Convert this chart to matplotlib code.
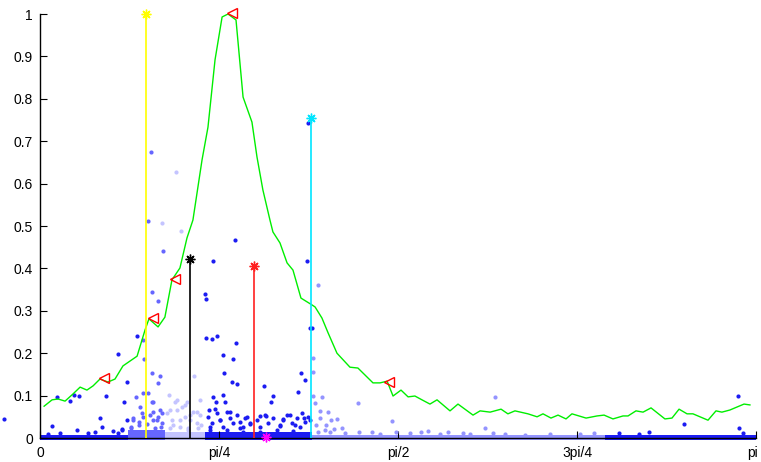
import numpy as np
import matplotlib
matplotlib.use("Agg")
import matplotlib.pyplot as plt
from matplotlib.transforms import ScaledTranslation

plt.rcParams['font.family'] = ['Liberation Sans', 'DejaVu Sans']

# green profile curve
curve_x = [0.018, 0.053, 0.079, 0.110, 0.145, 0.176, 0.206, 0.233, 0.263, 0.298,
           0.329, 0.364, 0.426, 0.461, 0.478, 0.518, 0.548, 0.579, 0.614, 0.645,
           0.671, 0.711, 0.737, 0.768, 0.799, 0.825, 0.860, 0.891, 0.930, 0.952,
           0.978, 1.009, 1.022, 1.053, 1.084, 1.110, 1.145, 1.193, 1.207, 1.237,
           1.264, 1.303, 1.360, 1.395, 1.461, 1.492, 1.523, 1.549, 1.584, 1.615,
           1.645, 1.676, 1.711, 1.742, 1.799, 1.834, 1.900, 1.931, 1.975, 2.023,
           2.053, 2.084, 2.141, 2.181, 2.207, 2.242, 2.273, 2.308, 2.334, 2.396,
           2.444, 2.475, 2.514, 2.558, 2.580, 2.615, 2.646, 2.681, 2.742, 2.773,
           2.804, 2.839, 2.865, 2.931, 2.966, 2.992, 3.027, 3.058, 3.089, 3.115]
curve_y = [0.075, 0.090, 0.092, 0.087, 0.104, 0.120, 0.113, 0.123, 0.139, 0.132,
           0.139, 0.170, 0.193, 0.255, 0.281, 0.262, 0.285, 0.373, 0.401, 0.472,
           0.514, 0.656, 0.733, 0.892, 0.993, 1.000, 0.986, 0.804, 0.745, 0.663,
           0.585, 0.514, 0.486, 0.460, 0.413, 0.396, 0.330, 0.314, 0.309, 0.283,
           0.248, 0.200, 0.167, 0.165, 0.130, 0.130, 0.134, 0.099, 0.113, 0.097,
           0.099, 0.090, 0.080, 0.090, 0.064, 0.080, 0.054, 0.064, 0.061, 0.068,
           0.057, 0.064, 0.057, 0.050, 0.057, 0.047, 0.054, 0.045, 0.057, 0.047,
           0.052, 0.054, 0.045, 0.052, 0.052, 0.064, 0.061, 0.071, 0.045, 0.047,
           0.068, 0.057, 0.057, 0.042, 0.064, 0.061, 0.066, 0.073, 0.080, 0.078]

# local maxima (triangles)
peak_x = [0.281, 0.496, 0.592, 0.842, 1.531]
peak_y = [0.142, 0.283, 0.375, 1.002, 0.132]

# stems with asterisks
stem_x = [0.465, 0.658, 0.939, 1.189, 0.992]
stem_y = [1.000, 0.422, 0.406, 0.755, 0.002]
stem_c = ['#ffff00', 'black', '#ff2020', '#00e5ff', '#ff00ff']

# scattered samples, one list per cluster
dark_x = [-0.158, 0.053, 0.075, 0.132, 0.149, 0.171, 0.162, 0.263, 0.272, 0.290,
          0.342, 0.382, 0.369, 0.382, 0.425, 0.360,
          0.035, 0.088, 0.211, 0.241, 0.320, 0.342, 0.360,
          0.856, 0.759, 0.724, 0.728, 0.728, 0.755, 0.777, 0.860, 0.803, 0.847,
          0.807, 0.842, 0.864, 0.759, 0.803, 0.812, 0.772, 0.742, 0.768, 0.983,
          1.022, 1.014, 0.965, 0.992, 1.066, 1.172, 1.176, 1.145, 1.163, 1.132,
          1.150, 1.158, 1.185, 1.193, 0.834, 0.899, 0.790, 1.097, 0.921, 1.053,
          0.878, 0.746, 1.119, 1.185,
          0.737, 0.755, 0.777, 0.790, 0.803, 0.820, 0.834, 0.847, 0.864, 0.878,
          0.891, 0.908, 0.921, 0.952, 0.965, 0.987, 1.000, 1.022, 1.053, 1.066,
          1.084, 1.106, 1.128, 1.141, 1.163, 1.176, 0.746, 0.820, 0.891, 0.965,
          1.040, 1.110,
          2.826, 3.063, 3.067, 3.085, 2.628, 2.672, 2.540]
dark_y = [0.045, 0.028, 0.097, 0.087, 0.101, 0.099, 0.019, 0.047, 0.026, 0.099,
          0.198, 0.132, 0.085, 0.042, 0.241, 0.021,
          0.009, 0.012, 0.012, 0.014, 0.017, 0.012, 0.019,
          0.467, 0.417, 0.340, 0.328, 0.236, 0.233, 0.241, 0.224, 0.196, 0.186,
          0.153, 0.132, 0.127, 0.097, 0.101, 0.085, 0.085, 0.066, 0.068, 0.123,
          0.099, 0.085, 0.052, 0.052, 0.045, 0.417, 0.743, 0.153, 0.137, 0.108,
          0.059, 0.047, 0.259, 0.259, 0.061, 0.047, 0.042, 0.054, 0.033, 0.028,
          0.024, 0.026, 0.031, 0.042,
          0.050, 0.035, 0.059, 0.042, 0.026, 0.061, 0.047, 0.035, 0.054, 0.038,
          0.026, 0.050, 0.035, 0.042, 0.026, 0.054, 0.035, 0.047, 0.031, 0.042,
          0.054, 0.035, 0.047, 0.026, 0.038, 0.050, 0.019, 0.019, 0.014, 0.014,
          0.019, 0.017,
          0.033, 0.099, 0.024, 0.012, 0.009, 0.014, 0.012]

mid_x = [0.487, 0.474, 0.540, 0.491, 0.518, 0.452, 0.456, 0.491, 0.527, 0.518,
         0.474, 0.421, 0.439, 0.452, 0.496, 0.496, 0.513, 0.452, 0.491, 0.408,
         0.535, 0.399, 0.434, 0.531,
         0.399, 0.408, 0.434, 0.448, 0.469, 0.483, 0.496, 0.505, 0.518, 0.527,
         0.535, 0.439, 0.474, 0.513]
mid_y = [0.675, 0.512, 0.441, 0.344, 0.323, 0.231, 0.186, 0.153, 0.146, 0.130,
         0.106, 0.097, 0.073, 0.050, 0.085, 0.061, 0.042, 0.106, 0.085, 0.042,
         0.059, 0.024, 0.031, 0.026,
         0.026, 0.047, 0.038, 0.059, 0.033, 0.054, 0.042, 0.024, 0.050, 0.066,
         0.035, 0.014, 0.012, 0.012]

pale_x = [0.535, 0.619, 0.597, 0.566, 0.601, 0.676, 0.702, 0.570, 0.636, 0.658,
          0.614, 0.689, 0.584, 0.649, 0.706,
          0.557, 0.579, 0.601, 0.623, 0.636, 0.658, 0.671, 0.689, 0.702, 0.570,
          0.614, 0.649, 0.693, 0.592, 0.645]
pale_y = [0.507, 0.488, 0.627, 0.101, 0.090, 0.146, 0.090, 0.066, 0.078, 0.054,
          0.042, 0.061, 0.031, 0.024, 0.031,
          0.059, 0.042, 0.066, 0.073, 0.050, 0.042, 0.061, 0.035, 0.054, 0.024,
          0.026, 0.019, 0.024, 0.085, 0.085]

lav_x = [1.220, 1.198, 1.198, 1.198, 1.237, 1.207, 1.229, 1.264, 1.303, 1.395,
         1.544, 1.325, 1.400, 1.457, 1.562, 1.672, 1.702, 1.790, 1.856, 1.996,
         1.953, 1.988, 2.128, 2.431, 1.255, 1.290,
         1.272, 1.338, 1.492, 1.623, 1.755, 1.887, 2.040, 2.238, 2.369,
         1.211, 1.229, 1.250, 1.277, 1.220]
lav_y = [0.361, 0.189, 0.156, 0.099, 0.097, 0.083, 0.064, 0.061, 0.045, 0.083,
         0.040, 0.024, 0.014, 0.014, 0.014, 0.014, 0.017, 0.014, 0.012, 0.097,
         0.024, 0.012, 0.008, 0.012, 0.031, 0.021,
         0.014, 0.012, 0.009, 0.012, 0.009, 0.009, 0.009, 0.009, 0.009,
         0.031, 0.047, 0.019, 0.042, 0.014]

# dense strip of samples along zero: start, end, top, colour
band_x0 = [0.000, 0.386, 0.548, 0.724, 1.193, 2.479]
band_x1 = [0.386, 0.548, 0.724, 1.193, 2.479, 3.141]
band_top = [0.007, 0.018, 0.013, 0.015, 0.007, 0.007]

C_DARK = '#1c1cf2'
C_MID = '#6666ff'
C_PALE = '#c4c4ff'
C_LAV = '#9494ff'
band_c = [C_DARK, C_MID, C_PALE, C_DARK, C_LAV, C_DARK]

fig = plt.figure(figsize=(7.61, 4.62), dpi=100)
ax = fig.add_axes([40 / 761, 1 - 438 / 462, 716 / 761, 424 / 462])

for x0, x1, top, c in zip(band_x0, band_x1, band_top, band_c):
    ax.fill_between([x0, x1], [-0.005, -0.005], [top, top], color=c, lw=0,
                    clip_on=False, zorder=1)

sz = 9
ax.scatter(dark_x, dark_y, s=sz, color=C_DARK, lw=0, clip_on=False, zorder=2)
ax.scatter(mid_x, mid_y, s=sz, color=C_MID, lw=0, clip_on=False, zorder=2)
ax.scatter(pale_x, pale_y, s=sz, color=C_PALE, lw=0, clip_on=False, zorder=2)
ax.scatter(lav_x, lav_y, s=sz, color=C_LAV, lw=0, clip_on=False, zorder=2)

ax.plot(curve_x, curve_y, color='#00ee00', lw=1, zorder=3)

for x, y, c in zip(stem_x, stem_y, stem_c):
    ax.plot([x, x], [0, y], color=c, lw=1.2, zorder=4)
    ax.plot([x], [y], marker=(8, 2, 0), ms=7, mec=c, mew=1, color=c,
            clip_on=False, zorder=5)

ax.plot(peak_x, peak_y, ls='none', marker='<', ms=7, mfc='none', mec='red',
        mew=1, clip_on=False, zorder=5)

ax.set_xlim(0, np.pi)
ax.set_ylim(0, 1)
ax.set_xticks([0, np.pi / 4, np.pi / 2, 3 * np.pi / 4, np.pi])
ax.set_xticklabels(['0', 'pi/4', 'pi/2', '3pi/4', 'pi'])
ax.set_yticks(np.arange(0, 1.01, 0.1))
ax.set_yticklabels(['0', '0.1', '0.2', '0.3', '0.4', '0.5', '0.6', '0.7',
                    '0.8', '0.9', '1'])
ax.tick_params(direction='in', length=5, width=0.8, labelsize=10, pad=6)
ax.tick_params(axis='y', pad=5)
ax.spines['top'].set_visible(False)
ax.spines['right'].set_visible(False)
ax.spines['left'].set_linewidth(1)
ax.spines['bottom'].set_linewidth(1)

# keep the last x label inside the figure
last = ax.get_xticklabels()[-1]
last.set_transform(last.get_transform() + ScaledTranslation(-3 / 100, 0, fig.dpi_scale_trans))

fig.savefig('out.png', dpi=100)
